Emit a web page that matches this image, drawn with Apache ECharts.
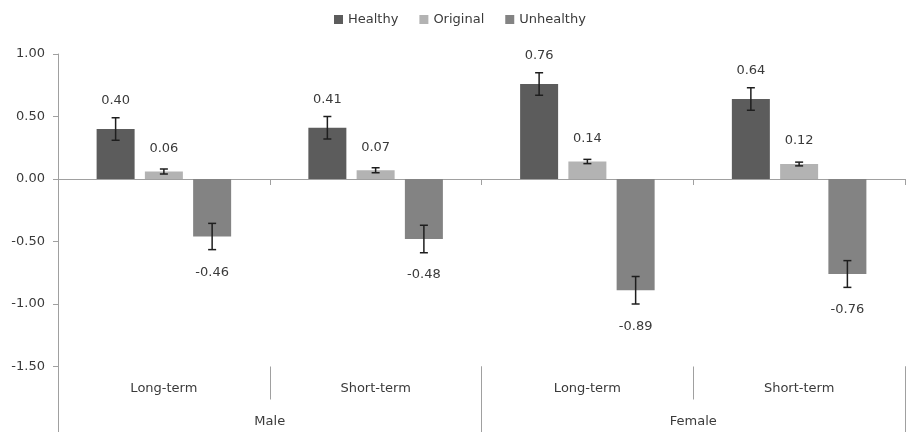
<!DOCTYPE html>
<html><head><meta charset="utf-8">
<script src="https://cdn.jsdelivr.net/npm/echarts@6/dist/echarts.min.js"></script>
<style>html,body{margin:0;padding:0;background:#fff}#c{width:906px;height:432px}</style>
</head><body><div id="c"></div>
<script>
// ---- data ----
const subCategories = ['Long-term', 'Short-term', 'Long-term', 'Short-term'];
const groups = ['Male', 'Female'];
const seriesNames = ['Healthy', 'Original', 'Unhealthy'];
const healthy = [0.40, 0.41, 0.76, 0.64];
const original = [0.06, 0.07, 0.14, 0.12];
const unhealthy = [-0.46, -0.48, -0.89, -0.76];
const healthyErr = [0.09, 0.09, 0.09, 0.09];
const originalErr = [0.02, 0.02, 0.017, 0.015];
const unhealthyErr = [0.105, 0.11, 0.11, 0.107];
const yMin = -1.5, yMax = 1.0, yStep = 0.5;

// ---- style ----
const FONT = '"DejaVu Sans", Verdana, sans-serif';
const FS = 13;
const TXT = '#3a3a3a';
const AXIS = '#a0a0a0';
const colors = ['#5c5c5c', '#b3b3b3', '#838383'];
const BAR_W = 38, BAR_GAP = 0.27;
const LABEL_OFF = [28, 23, 36];

const values = [healthy, original, unhealthy];
const errs = [healthyErr, originalErr, unhealthyErr];

function barSeries(i) {
  return {
    type: 'bar', name: seriesNames[i], xAxisIndex: 0, yAxisIndex: 0,
    data: values[i], barWidth: BAR_W, barGap: (BAR_GAP * 100) + '%',
    itemStyle: { color: colors[i] }, z: 2
  };
}
function errSeries(i) {
  const slot = BAR_W * (1 + BAR_GAP);
  return {
    type: 'custom', name: seriesNames[i] + ' error', xAxisIndex: 0, yAxisIndex: 0, z: 5,
    data: values[i].map((v, k) => [k, v, errs[i][k]]),
    renderItem(params, api) {
      const c = api.value(0), v = api.value(1), e = api.value(2);
      const off = (i - 1) * slot;
      const hi = api.coord([c, v + e]), lo = api.coord([c, v - e]), end = api.coord([c, v]);
      const x = hi[0] + off, cap = 4;
      const ly = v >= 0 ? end[1] - LABEL_OFF[i] : end[1] + LABEL_OFF[i];
      const st = { stroke: '#1e1e1e', lineWidth: 1.5 };
      return { type: 'group', children: [
        { type: 'line', shape: { x1: x, y1: hi[1], x2: x, y2: lo[1] }, style: st },
        { type: 'line', shape: { x1: x - cap, y1: hi[1], x2: x + cap, y2: hi[1] }, style: st },
        { type: 'line', shape: { x1: x - cap, y1: lo[1], x2: x + cap, y2: lo[1] }, style: st },
        { type: 'text', style: { text: v.toFixed(2), x: x, y: ly, align: 'center', verticalAlign: 'middle',
            fill: TXT, fontSize: FS, fontFamily: FONT } }
      ] };
    }
  };
}

const chart = echarts.init(document.getElementById('c'), null, { renderer: 'canvas' });
chart.setOption({
  animation: false,
  textStyle: { fontFamily: FONT },
  legend: {
    data: seriesNames, left: 329, top: 8, itemWidth: 9, itemHeight: 9, itemGap: 21, icon: 'rect',
    textStyle: { color: TXT, fontSize: FS, fontFamily: FONT }
  },
  grid: { left: 58, right: 1, top: 54, bottom: 65.5 },
  xAxis: [
    { type: 'category', data: subCategories, axisLine: { onZero: true, lineStyle: { color: AXIS, width: 1 } },
      axisTick: { show: true, length: 6, lineStyle: { color: AXIS } }, axisLabel: { show: false } },
    { type: 'category', data: subCategories, position: 'bottom', axisLine: { show: false, onZero: false },
      axisTick: { show: true, length: 33, lineStyle: { color: AXIS } },
      axisLabel: { margin: 16, color: TXT, fontSize: FS, fontFamily: FONT } },
    { type: 'category', data: groups, position: 'bottom', axisLine: { show: false, onZero: false },
      axisTick: { show: true, length: 66, lineStyle: { color: AXIS } },
      axisLabel: { margin: 49, color: TXT, fontSize: FS, fontFamily: FONT } }
  ],
  yAxis: {
    type: 'value', min: yMin, max: yMax, interval: yStep,
    axisLine: { show: true, lineStyle: { color: AXIS } },
    axisTick: { show: true, length: 5, lineStyle: { color: AXIS } },
    splitLine: { show: false },
    axisLabel: { margin: 13, color: TXT, fontSize: FS, fontFamily: FONT, formatter: v => v.toFixed(2) }
  },
  series: [barSeries(0), barSeries(1), barSeries(2), errSeries(0), errSeries(1), errSeries(2)]
});
</script></body></html>
